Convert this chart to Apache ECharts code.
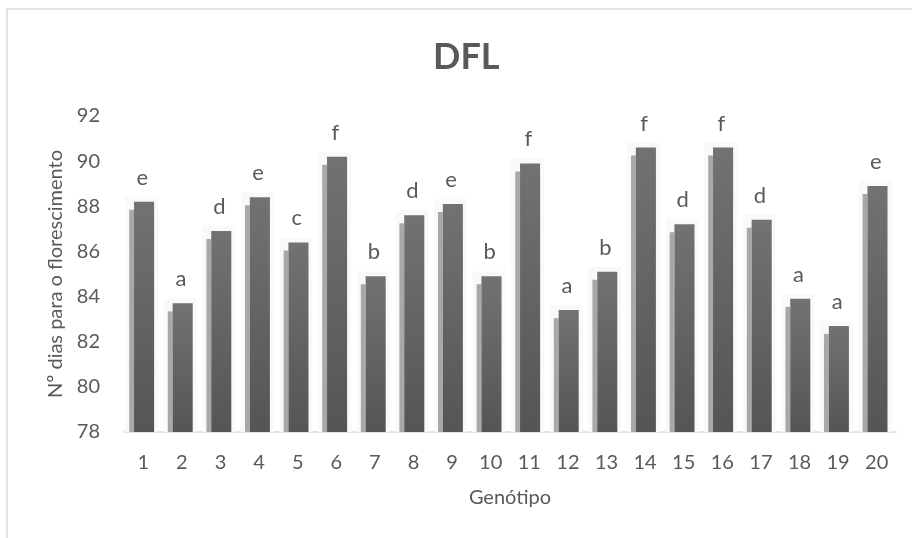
<!DOCTYPE html>
<html>
<head>
<meta charset="utf-8">
<script src="https://cdn.jsdelivr.net/npm/echarts@6/dist/echarts.min.js"></script>
<style>
  html, body { margin: 0; padding: 0; background: #fff; }
  #chart { width: 912px; height: 538px; }
</style>
</head>
<body>
<div id="chart"></div>
<script>
// dados
var genotipos = ['1','2','3','4','5','6','7','8','9','10','11','12','13','14','15','16','17','18','19','20'];
var diasFlor = [88.2, 83.7, 86.9, 88.4, 86.4, 90.2, 84.9, 87.6, 88.1, 84.9, 89.9, 83.4, 85.1, 90.6, 87.2, 90.6, 87.4, 83.9, 82.7, 88.9];
var letras = ['e','a','d','e','c','f','b','d','e','b','f','a','b','f','d','f','d','a','a','e'];
var yTicks = [78, 80, 82, 84, 86, 88, 90, 92];

var FONT = 'Lato, "Open Sans", sans-serif';
var TXT = '#595959';

var myChart = echarts.init(document.getElementById('chart'), null, {renderer: 'canvas'});

// barra "3D" do Excel: faixa clara à esquerda + face escura com degradê
function renderBarra(params, api) {
    var idx = api.value(0);
    var val = api.value(1);
    var topo = api.coord([idx, val]);
    var base = api.coord([idx, yTicks[0]]);
    var bw = api.size([1, 0])[0];
    var c = topo[0];
    var x0 = c - bw * 0.365, x1 = c - bw * 0.24, x2 = c + bw * 0.28;
    var yt = topo[1], yb = base[1];
    return {
        type: 'group',
        children: [
            { type: 'rect', shape: {x: x0 - 4, y: yt - 5, width: x2 - x0 + 8, height: yb - yt + 5},
              style: {fill: '#f9f9f9'} },
            { type: 'rect', shape: {x: x0, y: yt + 8, width: x1 - x0, height: yb - yt - 8},
              style: {fill: '#a8a8a8'} },
            { type: 'rect', shape: {x: x1, y: yt, width: x2 - x1, height: yb - yt},
              style: {fill: new echarts.graphic.LinearGradient(0, 0, 0, 1, [
                  {offset: 0, color: '#727272'},
                  {offset: 1, color: '#555555'}
              ])} },
            { type: 'text', x: c - 1, y: yt - 24,
              style: {text: letras[params.dataIndex], fill: TXT, font: '22px ' + FONT,
                      align: 'center', verticalAlign: 'middle'} }
        ]
    };
}

var option = {
    backgroundColor: '#ffffff',
    animation: false,
    title: {
        text: 'DFL',
        left: 428,
        top: 34,
        textStyle: {fontFamily: FONT, fontSize: 36, fontWeight: 'bold', color: TXT}
    },
    graphic: [{
        type: 'rect', shape: {x: 7, y: 9, width: 1000, height: 1000},
        style: {fill: 'none', stroke: '#d9d9d9', lineWidth: 1.5}, silent: true
    }],
    grid: {left: 124, right: 16, top: 116, bottom: 106},
    xAxis: {
        type: 'category',
        data: genotipos,
        name: 'Genótipo',
        nameLocation: 'middle',
        nameGap: 56,
        nameTextStyle: {fontFamily: FONT, fontSize: 20, color: TXT},
        axisLine: {lineStyle: {color: '#d9d9d9', width: 1.5}},
        axisTick: {show: false},
        axisLabel: {fontFamily: FONT, fontSize: 20, color: TXT, margin: 21, interval: 0}
    },
    yAxis: {
        type: 'value',
        min: 78,
        max: 92,
        interval: 2,
        name: 'Nº dias para o florescimento',
        nameLocation: 'middle',
        nameGap: 58,
        nameTextStyle: {fontFamily: FONT, fontSize: 20, color: TXT},
        axisLine: {show: false},
        axisTick: {show: false},
        splitLine: {show: false},
        axisLabel: {fontFamily: FONT, fontSize: 20, color: TXT, margin: 24}
    },
    series: [{
        type: 'custom',
        name: 'DFL',
        renderItem: renderBarra,
        encode: {x: 0, y: 1},
        data: diasFlor.map(function (v, i) { return [i, v]; }),
        z: 1
    }]
};
myChart.setOption(option);
</script>
</body>
</html>
